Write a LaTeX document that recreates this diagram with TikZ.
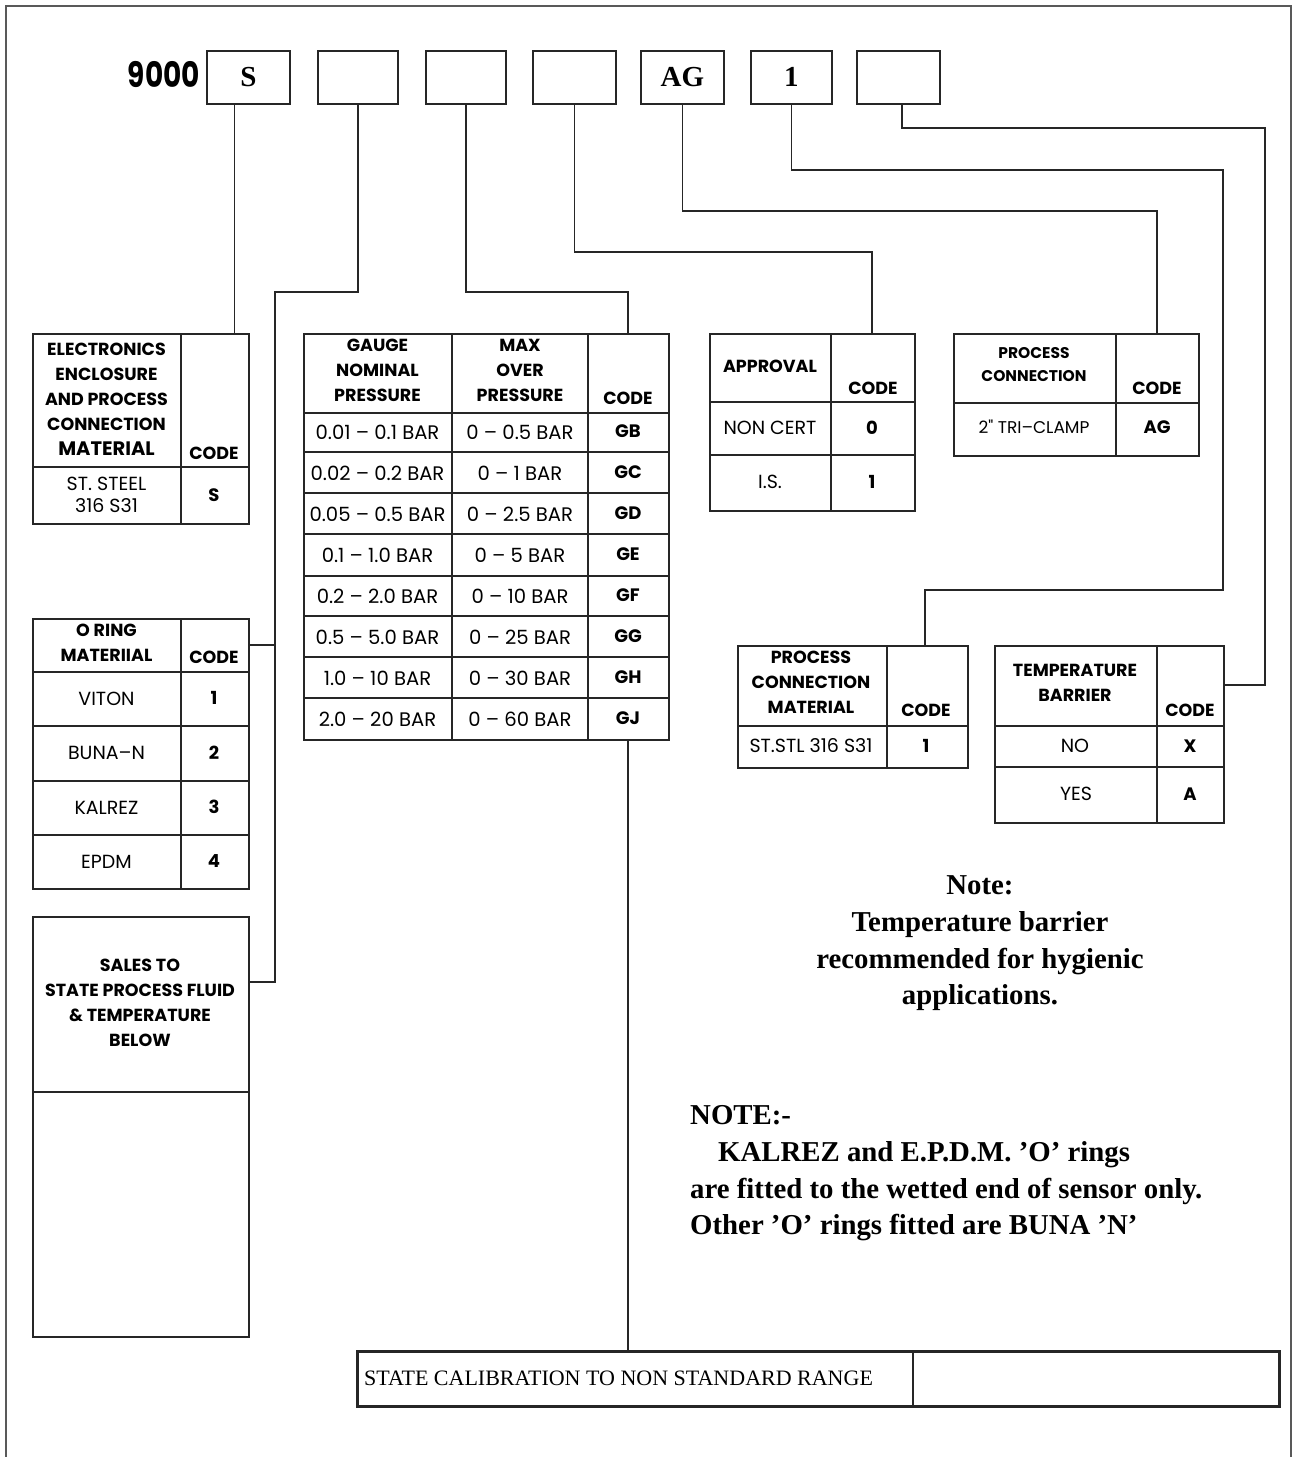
\documentclass[tikz,border=0pt]{standalone}
\usepackage{fontspec}
\setmainfont{Liberation Serif}
\newfontfamily\gothic{Poppins}
\usetikzlibrary{calc}
\newcommand\cell[5]{\node[#4] (#1) at (#2,#3) {#5};}
\tikzset{
 hd/.style={font=\gothic\bfseries\fontsize{17.5}{25}\selectfont, align=center, inner sep=0pt},
 hds/.style={font=\gothic\bfseries\fontsize{15.5}{23}\selectfont, align=center, inner sep=0pt},
 rw/.style={font=\gothic\fontsize{19}{22}\selectfont, align=center, inner sep=0pt},
 rws/.style={font=\gothic\fontsize{17}{20}\selectfont, inner sep=0pt},
 rwl/.style={font=\gothic\fontsize{19.6}{22}\selectfont, inner sep=0pt},
 cd/.style={font=\gothic\bfseries\fontsize{18}{22}\selectfont, inner sep=0pt},
 tbl/.style={draw=black!85, line width=1.8pt, inner sep=0pt, anchor=north west},
 rule/.style={draw=black!85, line width=1.8pt},
 conn/.style={draw=black!85, line width=1.7pt},
 codebox/.style={draw=black!85, line width=1.8pt, inner sep=0pt, anchor=north west, minimum width=#1, minimum height=53pt},
 boxletter/.style={font=\bfseries\fontsize{29}{32}\selectfont, inner sep=0pt},
 note/.style={font=\bfseries\fontsize{28.8}{32}\selectfont, inner sep=0pt},
}
\begin{document}
\begin{tikzpicture}[x=1pt,y=-1pt]
\useasboundingbox (0,0) rectangle (1292,1457);
% frame
\draw[black!65, line width=1.2pt] (6,1457) -- (6,6) -- (1291,6) -- (1291,1457);

% ---- code boxes ----
\node[font=\gothic\bfseries\fontsize{35}{40}\selectfont, inner sep=0pt, anchor=east] (model) at (200,74) {\scalebox{0.8}[1]{9000}};
\node[codebox=83pt] (b1) at (206,50) {};
\node[codebox=80pt] (b2) at (317,50) {};
\node[codebox=80pt] (b3) at (425,50) {};
\node[codebox=83pt] (b4) at (532,50) {};
\node[codebox=83pt] (b5) at (640,50) {};
\node[codebox=81pt] (b6) at (750,50) {};
\node[codebox=83pt] (b7) at (856,50) {};
\node[boxletter] (l1) at (b1.center) {S};
\node[boxletter] (l5) at (b5.center) {AG};
\node[boxletter] (l6) at (b6.center) {1};

% ---- electronics table ----
\node[tbl, minimum width=216pt, minimum height=190pt] (et) at (32,333) {};
\draw[rule] (181,333) -- (181,523);
\draw[rule] (32,467) -- (248,467);
\cell{eth}{106.5}{399}{hd}{ELECTRONICS\\ENCLOSURE\\AND PROCESS\\CONNECTION\\{\fontsize{19.5}{25}\selectfont MATERIAL}}
\cell{etc}{214}{453}{hd}{CODE}
\cell{etr}{106.5}{495}{rw}{ST. STEEL\\316 S31}
\cell{etv}{214}{495}{cd}{S}

% ---- gauge table ----
\node[tbl, minimum width=365pt, minimum height=406pt] (gt) at (303,333) {};
\draw[rule] (452,333) -- (452,739);
\draw[rule] (588,333) -- (588,739);
\foreach \yy in {413,452,493,534,576,616,657,698} {\draw[rule] (303,\yy) -- (668,\yy);}
\cell{gth1}{377.5}{370}{hd}{GAUGE\\NOMINAL\\PRESSURE}
\cell{gth2}{520}{370}{hd}{MAX\\OVER\\PRESSURE}
\cell{gth3}{628}{398}{hd}{CODE}
\foreach \a/\b/\c [count=\i] in {0.01 – 0.1 BAR/0 – 0.5 BAR/GB,0.02 – 0.2 BAR/0 – 1 BAR/GC,0.05 – 0.5 BAR/0 – 2.5 BAR/GD,0.1 – 1.0 BAR/0 – 5 BAR/GE,0.2 – 2.0 BAR/0 – 10 BAR/GF,0.5 – 5.0 BAR/0 – 25 BAR/GG,1.0 – 10 BAR/0 – 30 BAR/GH,2.0 – 20 BAR/0 – 60 BAR/GJ} {
  \node[rwl] (ga\i) at (377.5,{432+(\i-1)*41}) {\a};
  \node[rwl] (gb\i) at (520,{432+(\i-1)*41}) {\b};
  \node[cd] (gc\i) at (628,{431+(\i-1)*41}) {\c};
}

% ---- approval ----
\node[tbl, minimum width=205pt, minimum height=177pt] (ap) at (709,333) {};
\draw[rule] (831,333) -- (831,510);
\draw[rule] (709,402) -- (914,402);
\draw[rule] (709,455) -- (914,455);
\cell{aph}{770}{366}{hd}{APPROVAL}
\cell{apc}{873}{388}{hd}{CODE}
\cell{ap1}{770}{428}{rw}{NON CERT}
\cell{ap1c}{872}{428}{cd}{0}
\cell{ap2}{770}{482}{rw}{I.S.}
\cell{ap2c}{872}{482}{cd}{1}

% ---- process connection ----
\node[tbl, minimum width=245pt, minimum height=122pt] (pc) at (953,333) {};
\draw[rule] (1116,333) -- (1116,455);
\draw[rule] (953,403) -- (1198,403);
\cell{pch}{1034}{365}{hds}{PROCESS\\CONNECTION}
\cell{pcc}{1157}{388}{hd}{CODE}
\cell{pc1}{1034}{427}{rws}{2" TRI–CLAMP}
\cell{pc1c}{1157}{427}{cd}{AG}

% ---- O ring ----
\node[tbl, minimum width=216pt, minimum height=270pt] (ot) at (32,618) {};
\draw[rule] (181,618) -- (181,888);
\foreach \yy in {672,726,781,835} {\draw[rule] (32,\yy) -- (248,\yy);}
\cell{oth}{106.5}{643}{hd}{O RING\\MATERIIAL}
\cell{otc}{214}{657}{hd}{CODE}
\foreach \a/\b [count=\i] in {VITON/1,BUNA–N/2,KALREZ/3,EPDM/4} {
  \node[rw] (oa\i) at (106.5,{699+(\i-1)*54.3}) {\a};
  \node[cd] (ob\i) at (214,{698+(\i-1)*54.3}) {\b};
}

% ---- sales ----
\node[tbl, minimum width=216pt, minimum height=420pt] (sales) at (32,916) {};
\draw[rule] (32,1092) -- (248,1092);
\cell{salest}{140}{1003}{hd}{SALES TO\\STATE PROCESS FLUID\\\& TEMPERATURE\\BELOW}

% ---- process connection material ----
\node[tbl, minimum width=230pt, minimum height=122pt] (pm) at (737,645) {};
\draw[rule] (887,645) -- (887,767);
\draw[rule] (737,726) -- (967,726);
\cell{pmh}{811}{682}{hd}{PROCESS\\CONNECTION\\MATERIAL}
\cell{pmc}{926}{710}{hd}{CODE}
\cell{pm1}{811}{746}{rw}{ST.STL 316 S31}
\cell{pm1c}{926}{746}{cd}{1}

% ---- temperature barrier ----
\node[tbl, minimum width=229pt, minimum height=177pt] (tb) at (994,645) {};
\draw[rule] (1157,645) -- (1157,822);
\draw[rule] (994,726) -- (1223,726);
\draw[rule] (994,767) -- (1223,767);
\cell{tbh}{1075}{683}{hd}{TEMPERATURE\\BARRIER}
\cell{tbc}{1190}{710}{hd}{CODE}
\cell{tb1}{1075}{746}{rw}{NO}
\cell{tb1c}{1190}{746}{cd}{X}
\cell{tb2}{1076}{794}{rw}{YES}
\cell{tb2c}{1190}{794}{cd}{A}

% ---- calibration ----
\node[tbl, line width=2.6pt, minimum width=922pt, minimum height=55pt] (cal) at (356,1350) {};
\draw[draw=black!85, line width=2pt] (913,1350) -- (913,1405);
\node[font=\fontsize{22}{24}\selectfont, inner sep=0pt, anchor=west] (calt) at (364,1378) {STATE CALIBRATION TO NON STANDARD RANGE};

% ---- notes ----
\node[note, anchor=base] (n1) at (980,894) {Note:};
\node[note, anchor=base] (n2) at (980,931) {Temperature barrier};
\node[note, anchor=base] (n3) at (980,968) {recommended for hygienic};
\node[note, anchor=base] (n4) at (980,1004) {applications.};
\node[note, anchor=base west] (m1) at (690,1124) {NOTE:-};
\node[note, anchor=base west] (m2) at (718,1161) {KALREZ and E.P.D.M. ’O’ rings};
\node[note, anchor=base west] (m3) at (690,1198) {are fitted to the wetted end of sensor only.};
\node[note, anchor=base west] (m4) at (690,1234) {Other ’O’ rings fitted are BUNA ’N’};

% ---- connectors ----
\coordinate (lv2) at (0,292);
\coordinate (lv4) at (0,252);
\coordinate (lv5) at (0,211);
\coordinate (lv6) at (0,170);
\coordinate (lv7) at (0,128);
\coordinate (bus2) at (275,292);
\coordinate (salesin) at (248,982);
\coordinate (otin) at (248,645);
\coordinate (gtin) at (628,333);
\coordinate (gtout) at (628,739);
\coordinate (apin) at (872,333);
\coordinate (pcin) at (1157,333);
\coordinate (bend6) at (1223,590);
\coordinate (pmin) at (925,645);
\coordinate (bend7) at (1265,685);
\coordinate (tbin) at (1223,685);
\coordinate (c1) at ($(b1.south west)!0.337!(b1.south east)$);
\coordinate (c7) at ($(b7.south west)!0.54!(b7.south east)$);

\draw[conn] (c1) -- (c1 |- et.north);
\draw[conn] (b2.south) |- (bus2) -- (bus2 |- salesin) -- (salesin);
\draw[conn] (otin) -- (otin -| bus2);
\draw[conn] (b3.south) -- (b3.south |- lv2) -| (gtin);
\draw[conn] (b4.south) -- (b4.south |- lv4) -| (apin);
\draw[conn] (b5.south) -- (b5.south |- lv5) -| (pcin);
\draw[conn] (b6.south) -- (b6.south |- lv6) -| (bend6) -| (pmin);
\draw[conn] (c7) -- (c7 |- lv7) -| (bend7) -- (tbin);
\draw[conn] (gtout) -- (gtout |- cal.north);
\end{tikzpicture}
\end{document}
